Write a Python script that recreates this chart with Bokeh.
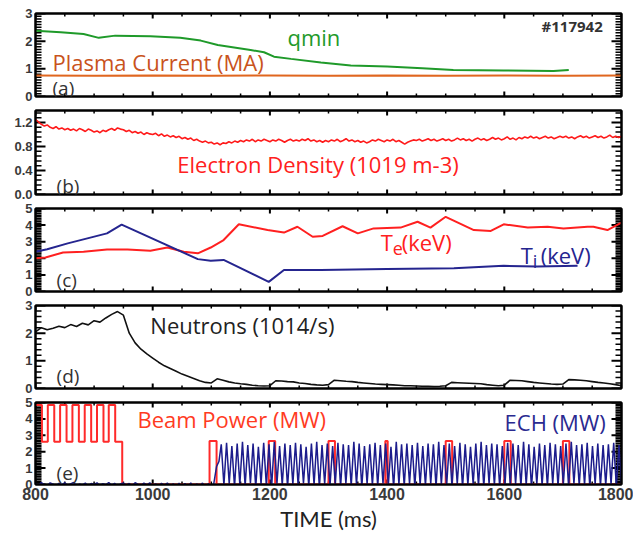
import numpy as np
from bokeh.plotting import figure
from bokeh.layouts import column
from bokeh.models import Range1d, LinearAxis, SingleIntervalTicker, Label, PrintfTickFormatter
from bokeh.embed import file_html
from bokeh.resources import INLINE

# ---------------- data ----------------
# (a) qmin and plasma current
qmin_t = [800, 843, 882, 908, 936, 996, 1047, 1082, 1111, 1167, 1190, 1207, 1236, 1287,
          1338, 1400, 1460, 1513, 1599, 1684, 1710]
qmin_v = [2.38, 2.32, 2.26, 2.12, 2.20, 2.18, 2.12, 2.02, 1.86, 1.68, 1.60, 1.44, 1.36, 1.23,
          1.12, 1.08, 1.02, 0.96, 0.94, 0.92, 0.96]
ip_t = [800, 900, 1000, 1100, 1200, 1300, 1400, 1500, 1600, 1700, 1800]
ip_v = [0.76, 0.75, 0.76, 0.75, 0.76, 0.75, 0.76, 0.75, 0.76, 0.75, 0.76]

# (b) electron density (5 ms samples, 800..1800)
dens_v = [1.25, 1.21, 1.17, 1.14, 1.16, 1.12, 1.10, 1.13, 1.09, 1.11,
          1.08, 1.10, 1.07, 1.09, 1.06, 1.10, 1.08, 1.05, 1.09, 1.07,
          1.04, 1.06, 1.03, 1.07, 1.05, 1.08, 1.10, 1.07, 1.11, 1.09,
          1.08, 1.05, 1.07, 1.03, 1.05, 1.02, 1.04, 1.00, 1.03, 1.01,
          1.00, 1.02, 0.98, 1.01, 0.97, 0.99, 0.96, 0.98, 0.95, 0.97,
          0.93, 0.95, 0.92, 0.94, 0.90, 0.92, 0.89, 0.87, 0.89, 0.86,
          0.87, 0.84, 0.86, 0.83, 0.86, 0.85, 0.88, 0.86, 0.89, 0.87,
          0.90, 0.88, 0.91, 0.89, 0.92, 0.88, 0.91, 0.89, 0.92, 0.90,
          0.88, 0.91, 0.89, 0.92, 0.90, 0.87, 0.90, 0.92, 0.89, 0.91,
          0.89, 0.92, 0.90, 0.93, 0.89, 0.91, 0.88, 0.90, 0.87, 0.90,
          0.88, 0.91, 0.89, 0.92, 0.88, 0.90, 0.93, 0.89, 0.91, 0.88,
          0.90, 0.87, 0.89, 0.86, 0.88, 0.91, 0.89, 0.92, 0.90, 0.88,
          0.91, 0.89, 0.92, 0.88, 0.90, 0.87, 0.84, 0.87, 0.89, 0.91,
          0.90, 0.92, 0.89, 0.91, 0.93, 0.90, 0.92, 0.89, 0.91, 0.93,
          0.90, 0.92, 0.89, 0.91, 0.94, 0.91, 0.93, 0.90, 0.92, 0.89,
          0.92, 0.94, 0.91, 0.93, 0.90, 0.92, 0.95, 0.92, 0.94, 0.91,
          0.93, 0.96, 0.92, 0.94, 0.91, 0.95, 0.93, 0.96, 0.94, 0.97,
          0.94, 0.96, 0.93, 0.95, 0.97, 0.94, 0.96, 0.93, 0.95, 0.97,
          0.95, 0.97, 0.94, 0.96, 0.93, 0.96, 0.98, 0.95, 0.97, 0.94,
          0.96, 0.98, 0.95, 0.97, 0.94, 0.96, 0.99, 0.95, 0.97, 0.95,
          0.97]

# (c) Te and Ti
te_t = [800, 817, 847, 882, 922, 957, 996, 1025, 1053, 1077, 1099, 1121, 1147, 1196, 1224,
        1247, 1273, 1290, 1324, 1350, 1377, 1423, 1452, 1474, 1500, 1548, 1577, 1599, 1640,
        1674, 1701, 1742, 1752, 1776, 1800]
te_v = [2.0, 2.05, 2.35, 2.4, 2.53, 2.53, 2.45, 2.65, 2.4, 2.3, 2.65, 3.1, 4.05, 3.7, 3.55,
        3.9, 3.3, 3.35, 3.93, 3.5, 3.8, 3.85, 4.2, 3.85, 4.5, 3.7, 3.65, 4.05, 3.85,
        3.9, 3.8, 3.9, 3.9, 3.7, 4.15]
ti_t = [800, 820, 855, 922, 947, 1077, 1099, 1121, 1198, 1224, 1287, 1400, 1514, 1599, 1656, 1725]
ti_v = [2.4, 2.55, 2.9, 3.5, 4.03, 1.95, 1.85, 1.9, 0.58, 1.3, 1.3, 1.35, 1.4, 1.55, 1.5, 1.55]

# (d) neutrons (10 ms samples, 800..1800)
neut_v = [2.05, 2.20, 2.12, 2.18, 2.25, 2.20, 2.31, 2.24, 2.36, 2.30,
          2.45, 2.40, 2.55, 2.68, 2.78, 2.65, 2.00, 1.65, 1.42, 1.25,
          1.10, 0.95, 0.82, 0.72, 0.62, 0.52, 0.44, 0.36, 0.28, 0.22,
          0.20, 0.35, 0.30, 0.24, 0.20, 0.17, 0.15, 0.12, 0.10, 0.09,
          0.10, 0.28, 0.27, 0.25, 0.24, 0.20, 0.18, 0.15, 0.13, 0.12,
          0.14, 0.30, 0.28, 0.26, 0.25, 0.22, 0.20, 0.18, 0.16, 0.15,
          0.14, 0.13, 0.12, 0.10, 0.10, 0.09, 0.08, 0.08, 0.07, 0.08,
          0.10, 0.22, 0.21, 0.20, 0.19, 0.18, 0.17, 0.14, 0.12, 0.10,
          0.12, 0.30, 0.29, 0.28, 0.25, 0.22, 0.20, 0.18, 0.16, 0.15,
          0.16, 0.32, 0.31, 0.30, 0.28, 0.25, 0.22, 0.20, 0.17, 0.14,
          0.10]

# (e) beam power (step edges) and ECH
beam_t = [800, 811, 821, 832, 842, 853, 863, 874, 884, 895, 905, 916, 925, 936, 948,
          1097, 1109, 1198, 1209, 1300, 1311, 1397, 1401, 1500, 1511, 1600, 1611, 1700, 1711, 1800]
beam_p = [4.85, 2.6, 4.85, 2.6, 4.85, 2.6, 4.85, 2.6, 4.85, 2.6, 4.85, 2.6, 4.85, 2.6, 0.0,
          2.65, 0.0, 2.65, 0.0, 2.65, 0.0, 2.65, 0.0, 2.65, 0.0, 2.65, 0.0, 2.65, 0.0, 0.0]

ech_pre = [0.05, -0.05, 0.12, 0.0, -0.08, 0.10, 0.02, -0.10, 0.08, -0.03,
           0.11, -0.06, 0.04, 0.13, -0.09, 0.03, -0.04, 0.09, -0.12, 0.06,
           0.0, 0.10, -0.07, 0.05, -0.02, 0.12, -0.05, 0.07, -0.10, 0.03,
           0.09, -0.04, 0.06, -0.08, 0.11, 0.0, -0.06, 0.08, -0.03, 0.10,
           -0.09, 0.04, -0.12, 0.07, -0.05, 0.09, -0.15, 0.05, -0.18, 0.08,
           -0.20, 0.06, -0.16, 0.10, -0.22, 0.04, -0.17, 0.09, -0.20, 0.05, -0.10]
ech_ramp_t = [1104, 1109, 1113]
ech_ramp_v = [0.0, 1.1, 1.4]
ech_peak = [2.45, 2.55, 2.35, 2.5, 2.6, 2.4, 2.5, 2.3, 2.55, 2.45, 2.6, 2.35, 2.5, 2.4, 2.55, 2.45, 2.3, 2.5, 2.6, 2.4,
            2.5, 2.35, 2.55, 2.45, 2.4, 2.6, 2.5, 2.35, 2.45, 2.55, 2.4, 2.5, 2.3, 2.6, 2.45, 2.5, 2.4, 2.55, 2.35, 2.5,
            2.45, 2.6, 2.4, 2.5, 2.35, 2.55, 2.45, 2.3, 2.5, 2.6, 2.4, 2.5, 2.45, 2.35, 2.55, 2.5, 2.4, 2.6, 2.45, 2.3,
            2.5, 2.4, 2.55, 2.45, 2.35, 2.5, 2.6, 2.4, 2.45, 2.55, 2.35, 2.5, 2.4, 2.45, 2.55, 2.4]
ech_trough = [-0.05, 0.05, -0.15, 0.0, -0.1, 0.08, -0.2, 0.02, -0.08, -0.15, 0.05, -0.05, -0.18, 0.0, -0.1, 0.06, -0.12, -0.02, -0.2, 0.04,
              -0.08, 0.0, -0.15, 0.05, -0.1, -0.02, -0.18, 0.03, -0.06, -0.12, 0.06, -0.04, -0.2, 0.0, -0.1, 0.04, -0.14, -0.02, -0.08, 0.05,
              -0.16, 0.0, -0.06, -0.12, 0.04, -0.2, -0.03, 0.02, -0.1, -0.15, 0.05, -0.05, -0.18, 0.0, -0.08, 0.03, -0.12, -0.04, -0.2, 0.02,
              -0.06, -0.14, 0.04, -0.1, 0.0, -0.16, 0.05, -0.08, -0.02, -0.18, 0.03, -0.1, -0.05, 0.02, -0.12, -0.04]
ech_start = 1117.0
ech_period = 9.05

# ---------------- derived series ----------------
dens_t = np.linspace(800, 1800, len(dens_v))
neut_t = np.linspace(800, 1800, len(neut_v))
ech_pre_t = np.linspace(800, 1100, len(ech_pre))
ech_t = list(ech_pre_t) + ech_ramp_t
ech_v = list(ech_pre) + ech_ramp_v
for i, (pk, tr) in enumerate(zip(ech_peak, ech_trough)):
    tp = ech_start + i * ech_period
    ech_t += [tp, tp + ech_period / 2]
    ech_v += [pk, tr]

# ---------------- styling helpers ----------------
TICK_FONT = "Liberation Sans"
TEXT_FONT = "Open Sans"
X0, X1 = 800, 1800
X_MAJOR, X_MINOR = 200, 50
xr = Range1d(X0, X1)
FIG_W = 633
FRAME_W = 633 - 35 - 12


def base_axis(ax, show_labels, size="13px"):
    ax.axis_line_color = "black"
    ax.axis_line_width = 2
    ax.major_tick_in = 0
    ax.major_tick_out = 0
    ax.minor_tick_in = 0
    ax.minor_tick_out = 0
    ax.major_label_text_font = TICK_FONT
    ax.major_label_text_font_style = "bold"
    if show_labels:
        ax.major_label_text_color = "#3a3a3a"
        ax.major_label_text_font_size = size
        ax.major_label_standoff = 3
    else:
        ax.major_label_text_color = None
        ax.major_label_text_font_size = "1px"
        ax.major_label_standoff = 0
    return ax


def add_ticks(p, ymax, yint, yminor, frame_h):
    """Inward tick marks on all four sides (segments sized in pixels)."""
    eps = 1e-9
    dx = (X1 - X0) / FRAME_W        # data units per pixel, x
    dy = ymax / frame_h             # data units per pixel, y
    ymaj = np.arange(0, ymax + eps, yint)
    yall = np.arange(0, ymax + eps, yint / yminor)
    ymin = np.array([v for v in yall if np.min(np.abs(v - ymaj)) > 1e-6])
    for yy, ln, lw in ((ymaj, 10, 2.0), (ymin, 6, 1.5)):
        n = len(yy)
        p.segment(x0=[X0] * n, y0=yy, x1=[X0 + ln * dx] * n, y1=yy,
                  line_color="black", line_width=lw)
        p.segment(x0=[X1] * n, y0=yy, x1=[X1 - ln * dx] * n, y1=yy,
                  line_color="black", line_width=lw)
    xmaj = np.arange(X0, X1 + 1, X_MAJOR)
    xmin = np.array([v for v in np.arange(X0, X1 + 1, X_MINOR) if v % X_MAJOR])
    for xx, ln, lw in ((xmaj, 5, 2.0), (xmin, 3, 1.5)):
        n = len(xx)
        p.segment(x0=xx, y0=[ymax] * n, x1=xx, y1=[ymax - ln * dy] * n,
                  line_color="black", line_width=lw)
        p.segment(x0=xx, y0=[0] * n, x1=xx, y1=[ln * dy] * n,
                  line_color="black", line_width=lw)


def make_fig(ymax, yint, yminor, top, frame_h, bottom, xlabels=False, fmt=None):
    p = figure(width=FIG_W, height=top + frame_h + bottom, x_range=xr, y_range=Range1d(0, ymax),
               output_backend="svg", toolbar_location=None,
               x_axis_location=None, y_axis_location=None,
               min_border_left=35, min_border_right=12,
               min_border_top=top, min_border_bottom=bottom)
    p.outline_line_color = "black"
    p.outline_line_width = 2
    p.background_fill_color = None
    p.border_fill_color = None
    p.grid.grid_line_color = None
    for side in ("left", "right"):
        ax = LinearAxis(ticker=SingleIntervalTicker(interval=yint, num_minor_ticks=yminor))
        base_axis(ax, side == "left")
        if fmt:
            ax.formatter = PrintfTickFormatter(format=fmt)
        p.add_layout(ax, side)
    for side in ("above", "below"):
        ax = LinearAxis(ticker=SingleIntervalTicker(interval=X_MAJOR, num_minor_ticks=4))
        base_axis(ax, side == "below" and xlabels, "16px")
        if side == "below" and xlabels:
            ax.axis_label = "TIME (ms)"
            ax.axis_label_text_font = "Lato"
            ax.axis_label_text_font_size = "22px"
            ax.axis_label_text_font_style = "normal"
            ax.axis_label_text_color = "#222222"
            ax.axis_label_standoff = 2
        p.add_layout(ax, side)
    add_ticks(p, ymax, yint, yminor, frame_h)
    return p


def lab(p, x, y, text, color, size="22px", **kw):
    p.add_layout(Label(x=x, y=y, text=text, text_color=color, text_font=TEXT_FONT,
                       text_font_size=size, text_baseline="middle", **kw))


# ---------------- panels ----------------
pa = make_fig(3, 1, 10, 13, 83, 7)
pa.line(ip_t, ip_v, line_color="#e0661f", line_width=2)
pa.line(qmin_t, qmin_v, line_color="#1f9a2a", line_width=2)
lab(pa, 1230, 2.15, "qmin", "#1f9a2a")
lab(pa, 829, 1.23, "Plasma Current (MA)", "#c9531c")
lab(pa, 1768, 2.56, "#117942", "#333333", size="15px", text_font_style="bold", text_align="right")
lab(pa, 829, 0.32, "(a)", "#333333", size="19px")

pb = make_fig(1.4, 0.4, 5, 7, 84, 7, fmt="%.1f")
pb.line(dens_t, dens_v, line_color="#ff1a1a", line_width=1.6)
lab(pb, 1042, 0.51, "Electron Density (1019 m-3)", "#ff2020")
lab(pb, 836, 0.14, "(b)", "#333333", size="19px")

pc = make_fig(5, 1, 10, 7, 83, 7)
pc.line(te_t, te_v, line_color="#ff2020", line_width=2)
pc.line(ti_t, ti_v, line_color="#25258f", line_width=2)
lab(pc, 1389, 2.98, "T", "#ff2020")
lab(pc, 1389, 2.98, "e", "#ff2020", size="18px", x_offset=12, y_offset=-6)
lab(pc, 1389, 2.98, "(keV)", "#ff2020", x_offset=21)
lab(pc, 1628, 2.2, "T", "#25258f")
lab(pc, 1628, 2.2, "i", "#25258f", size="18px", x_offset=12, y_offset=-6)
lab(pc, 1628, 2.2, "(keV)", "#25258f", x_offset=20)
lab(pc, 836, 0.71, "(c)", "#333333", size="19px")

pd = make_fig(3, 1, 5, 7, 83, 7)
pd.line(neut_t, neut_v, line_color="#111111", line_width=1.6)
lab(pd, 996, 2.29, "Neutrons (1014/s)", "#222222")
lab(pd, 836, 0.46, "(d)", "#333333", size="19px")

pe = make_fig(5, 1, 10, 7, 84, 48, xlabels=True)
pe.step(beam_t, beam_p, mode="after", line_color="#ff2a2a", line_width=2)
pe.line(ech_t, ech_v, line_color="#1c1c8c", line_width=1.5)
lab(pe, 974, 3.99, "Beam Power (MW)", "#ff3b1f")
lab(pe, 1773, 3.8, "ECH (MW)", "#2a2a90", text_align="right")
lab(pe, 836, 0.71, "(e)", "#333333", size="19px")

layout = column(pa, pb, pc, pd, pe, spacing=0)
open("out.html", "w").write(file_html(layout, INLINE))
